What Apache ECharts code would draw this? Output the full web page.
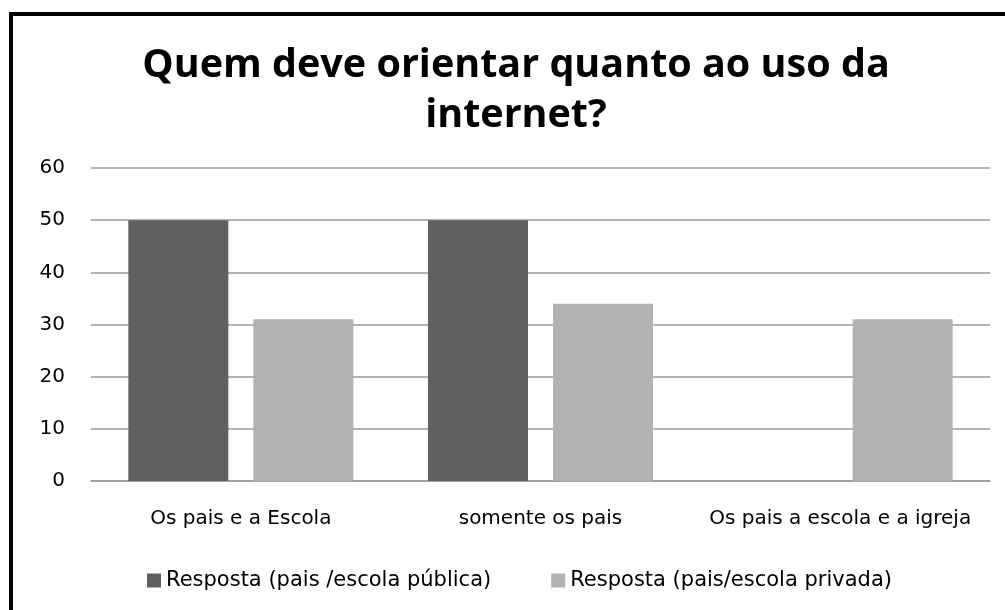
<!DOCTYPE html>
<html>
<head>
<meta charset="utf-8">
<script src="https://cdn.jsdelivr.net/npm/echarts@6/dist/echarts.min.js"></script>
<style>
html,body{margin:0;padding:0;background:#fff;}
#c{width:1005px;height:610px;}
</style>
</head>
<body>
<div id="c"></div>
<script>
const titleText = 'Quem deve orientar quanto ao uso da\ninternet?';
const categories = ['Os pais e a Escola', 'somente os pais', 'Os pais a escola e a igreja'];
const seriesNames = ['Resposta (pais /escola pública)', 'Resposta (pais/escola privada)'];
const publicValues = [50, 50, 0];
const privateValues = [31, 34, 31];
const yTicks = {min: 0, max: 60, interval: 10};

const chart = echarts.init(document.getElementById('c'));
const titleFont = '"Open Sans", "DejaVu Sans", sans-serif';
const font = '"DejaVu Sans", "Open Sans", sans-serif';
chart.setOption({
  backgroundColor: '#fff',
  animation: false,
  textStyle: {fontFamily: font},
  graphic: [{
    type: 'rect',
    shape: {x: 11, y: 14, width: 1100, height: 700},
    style: {fill: 'none', stroke: '#000', lineWidth: 4},
    z: 100
  }],
  title: {
    text: titleText,
    left: 511,
    textAlign: 'center',
    top: 36,
    textStyle: {fontFamily: titleFont, fontWeight: 'bold', fontSize: 39.5, lineHeight: 50, color: '#000'}
  },
  legend: {
    data: seriesNames,
    left: 142,
    top: 565,
    icon: 'rect',
    itemWidth: 14,
    itemHeight: 14,
    itemGap: 60,
    textStyle: {fontFamily: font, fontSize: 21, color: '#000'}
  },
  grid: {left: 91, right: 15, top: 168, bottom: 129, containLabel: false},
  xAxis: {
    type: 'category',
    data: categories,
    axisTick: {show: false},
    axisLine: {lineStyle: {color: '#9a9a9a', width: 1.5}},
    axisLabel: {fontFamily: font, fontSize: 20, color: '#000', margin: 28, interval: 0}
  },
  yAxis: {
    type: 'value',
    min: yTicks.min, max: yTicks.max, interval: yTicks.interval,
    axisLine: {show: false},
    axisTick: {show: false},
    axisLabel: {fontFamily: font, fontSize: 20, color: '#000', margin: 26},
    splitLine: {lineStyle: {color: '#9a9a9a', width: 1.5}}
  },
  series: [
    {name: seriesNames[0], type: 'bar', data: publicValues, barWidth: 100, barGap: '25%',
     itemStyle: {color: '#606060'}},
    {name: seriesNames[1], type: 'bar', data: privateValues, barWidth: 100, barGap: '25%',
     itemStyle: {color: '#b2b2b2'}}
  ]
});
</script>
</body>
</html>
